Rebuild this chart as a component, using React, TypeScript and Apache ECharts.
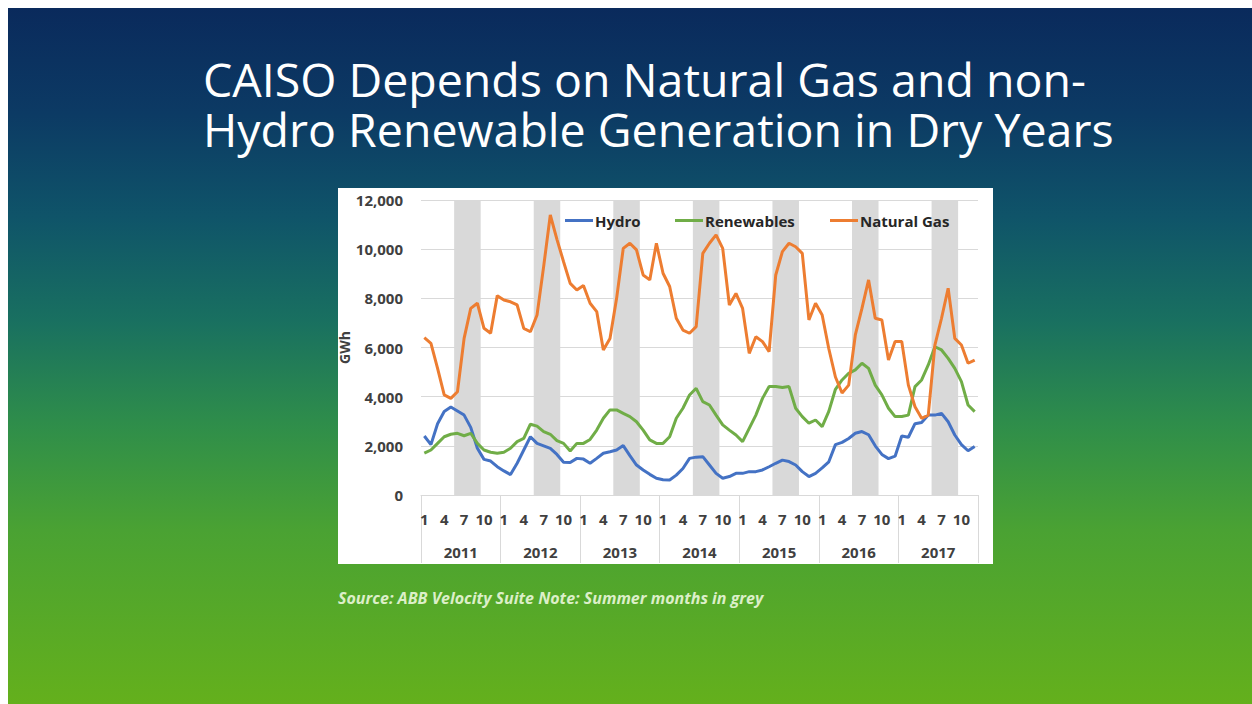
import React, { useEffect, useRef } from "react";
import * as echarts from "echarts";

const years = ["2011", "2012", "2013", "2014", "2015", "2016", "2017"];
const monthLabels = ["1", "2", "3", "4", "5", "6", "7", "8", "9", "10", "11", "12"];
const summerMonths = ["6", "7", "8", "9"];
const yMax = 12000;
const yInterval = 2000;

const hydro = [
  2400, 2050, 2900, 3400, 3580, 3420, 3250, 2750, 1900, 1450, 1380, 1150,
  980, 830, 1290, 1830, 2370, 2100, 2000, 1900, 1650, 1330, 1320, 1490,
  1460, 1290, 1490, 1700, 1760, 1830, 2010, 1600, 1220, 1020, 840, 680,
  620, 610, 810, 1080, 1490, 1540, 1560, 1220, 880, 680, 750, 880,
  880, 950, 950, 1020, 1150, 1290, 1420, 1360, 1220, 950, 750, 880,
  1100, 1350, 2050, 2140, 2300, 2510, 2580, 2450, 2000, 1650, 1480, 1580,
  2400, 2350, 2900, 2950, 3250, 3250, 3320, 2980, 2440, 2050, 1800, 1970,
];

const renewables = [
  1700, 1830, 2100, 2370, 2470, 2510, 2410, 2510, 2100, 1830, 1740, 1700,
  1740, 1900, 2170, 2300, 2880, 2800, 2580, 2470, 2210, 2100, 1790, 2100,
  2100, 2260, 2640, 3120, 3460, 3460, 3320, 3190, 2980, 2640, 2240, 2100,
  2100, 2370, 3120, 3530, 4070, 4340, 3800, 3660, 3250, 2850, 2640, 2440,
  2170, 2710, 3250, 3930, 4410, 4410, 4370, 4410, 3530, 3190, 2920, 3050,
  2780, 3400, 4300, 4680, 4950, 5090, 5360, 5150, 4470, 4070, 3530, 3190,
  3190, 3250, 4410, 4680, 5290, 6030, 5900, 5560, 5150, 4610, 3660, 3390,
];

const naturalGas = [
  6400, 6170, 5150, 4070, 3930, 4200, 6370, 7590, 7800, 6780, 6580, 8110,
  7930, 7860, 7730, 6780, 6640, 7320, 9300, 11390, 10400, 9490, 8610, 8340,
  8520, 7800, 7460, 5900, 6370, 8000, 10030, 10240, 9970, 8950, 8750, 10240,
  9020, 8480, 7190, 6710, 6580, 6850, 9830, 10240, 10580, 10030, 7730, 8200,
  7590, 5760, 6440, 6240, 5830, 8950, 9900, 10240, 10100, 9830, 7120, 7800,
  7320, 5950, 4800, 4150, 4470, 6510, 7590, 8750, 7190, 7120, 5490, 6240,
  6240, 4470, 3590, 3120, 3250, 6100, 7190, 8410, 6370, 6100, 5360, 5490,
];

const titleLines = [
  "CAISO Depends on Natural Gas and non-",
  "Hydro Renewable Generation in Dry Years",
];
const sourceNote = "Source: ABB Velocity Suite Note: Summer months in grey";

const categories: string[] = [];
years.forEach((y) => monthLabels.forEach((m) => categories.push(y + "-" + m)));

// summer shading spans (in month units on a hidden value axis 0..84)
const summerStart = monthLabels.indexOf(summerMonths[0]);
const summerEnd = monthLabels.indexOf(summerMonths[summerMonths.length - 1]) + 1;
const summerAreas = years.map((_, yi) => [
  { xAxis: yi * monthLabels.length + summerStart },
  { xAxis: yi * monthLabels.length + summerEnd },
]);

const FONT = "Open Sans";
const axisText = { fontFamily: FONT, fontSize: 15, fontWeight: "bold" as const, color: "#404040" };

export default function App() {
  const ref = useRef<HTMLDivElement>(null);

  useEffect(() => {
    document.body.style.margin = "0";
    document.body.style.overflow = "hidden";
    const chart = echarts.init(ref.current!, null, { renderer: "svg" });

    const legendBase = {
      icon: "rect",
      itemWidth: 28,
      itemHeight: 3,
      itemGap: 0,
      top: 208,
      textStyle: { fontFamily: FONT, fontSize: 15, fontWeight: "bold", color: "#262626", padding: [0, 0, 0, -3] },
    };

    chart.setOption({
      animation: false,
      backgroundColor: "#ffffff",
      graphic: {
        elements: [
          {
            type: "rect",
            z: -10,
            shape: { x: 8, y: 8, width: 1244, height: 696 },
            style: {
              fill: new echarts.graphic.LinearGradient(0, 0, 0, 1, [
                { offset: 0, color: "#0a2a5c" },
                { offset: 0.15, color: "#0c3a64" },
                { offset: 0.3, color: "#0f5469" },
                { offset: 0.45, color: "#197060" },
                { offset: 0.6, color: "#2f8e4a" },
                { offset: 0.75, color: "#4aa233" },
                { offset: 1, color: "#64b01c" },
              ]),
            },
          },
          {
            type: "rect",
            z: -9,
            shape: { x: 338, y: 188, width: 655, height: 376 },
            style: { fill: "#ffffff" },
          },
          {
            type: "text",
            x: 203,
            y: 104,
            style: {
              text: titleLines.join("\n"),
              fill: "#ffffff",
              fontSize: 46.5,
              lineHeight: 50,
              fontFamily: FONT,
              fontWeight: 500,
              verticalAlign: "middle",
            },
          },
          {
            type: "text",
            x: 338,
            y: 598,
            style: {
              text: sourceNote,
              fill: "#dcefc8",
              fontSize: 16,
              fontFamily: FONT,
              fontWeight: "bold",
              fontStyle: "italic",
              verticalAlign: "middle",
            },
          },
        ],
      },
      legend: [
        { ...legendBase, left: 560, data: ["Hydro"] },
        { ...legendBase, left: 670, data: ["Renewables"] },
        { ...legendBase, left: 825, data: ["Natural Gas"] },
      ],
      grid: { left: 421, top: 200, width: 557, height: 295, containLabel: false },
      xAxis: [
        {
          type: "category",
          data: categories,
          position: "bottom",
          boundaryGap: true,
          axisLine: { lineStyle: { color: "#d9d9d9", width: 1 } },
          axisTick: { show: false },
          axisLabel: {
            ...axisText,
            interval: 2,
            margin: 16,
            formatter: (v: string) => v.split("-")[1],
          },
          splitLine: { show: false },
        },
        {
          type: "category",
          data: years,
          position: "bottom",
          boundaryGap: true,
          axisLine: { show: false },
          axisTick: { show: true, interval: 0, length: 68, lineStyle: { color: "#d9d9d9", width: 1 } },
          axisLabel: { ...axisText, interval: 0, margin: 49 },
          splitLine: { show: false },
        },
        {
          type: "value",
          min: 0,
          max: categories.length,
          show: false,
          position: "top",
          splitLine: { show: false },
        },
      ],
      yAxis: {
        type: "value",
        min: 0,
        max: yMax,
        interval: yInterval,
        name: "GWh",
        nameLocation: "middle",
        nameRotate: 90,
        nameGap: 53,
        nameTextStyle: { fontFamily: FONT, fontSize: 14, fontWeight: "bold", color: "#404040" },
        axisLine: { show: false },
        axisTick: { show: false },
        axisLabel: {
          ...axisText,
          margin: 18,
          formatter: (v: number) => v.toLocaleString("en-US"),
        },
        splitLine: { lineStyle: { color: "#d9d9d9", width: 1 } },
      },
      series: [
        {
          name: "Summer",
          type: "line",
          xAxisIndex: 2,
          data: [],
          silent: true,
          z: 1,
          markArea: {
            silent: true,
            itemStyle: { color: "#d9d9d9" },
            label: { show: false },
            data: summerAreas,
          },
        },
        {
          name: "Hydro",
          type: "line",
          data: hydro,
          symbol: "none",
          lineStyle: { color: "#4472c4", width: 3 },
          itemStyle: { color: "#4472c4" },
          z: 3,
        },
        {
          name: "Renewables",
          type: "line",
          data: renewables,
          symbol: "none",
          lineStyle: { color: "#70ad47", width: 3 },
          itemStyle: { color: "#70ad47" },
          z: 3,
        },
        {
          name: "Natural Gas",
          type: "line",
          data: naturalGas,
          symbol: "none",
          lineStyle: { color: "#ed7d31", width: 3 },
          itemStyle: { color: "#ed7d31" },
          z: 3,
        },
      ],
    });

    return () => chart.dispose();
  }, []);

  return <div ref={ref} style={{ width: 1252, height: 704 }} />;
}
